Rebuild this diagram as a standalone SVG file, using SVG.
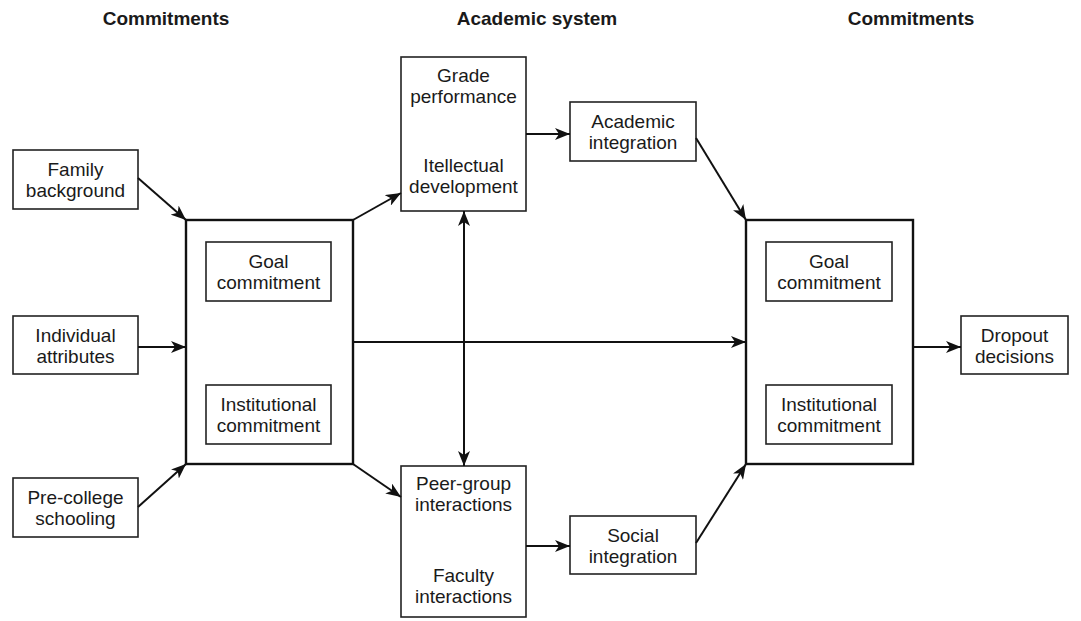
<svg xmlns="http://www.w3.org/2000/svg" width="1081" height="621" viewBox="0 0 1081 621">
<style>
text{font-family:"Liberation Sans",Arial,sans-serif;font-size:19px;fill:#1a1a1a;text-anchor:middle}
.h{font-weight:bold;font-size:19px}
.b{fill:#fff;stroke:#222;stroke-width:1.6}
.big{fill:none;stroke:#111;stroke-width:2.4}
.c{fill:none;stroke:#111;stroke-width:2;marker-end:url(#ah)}
</style>
<defs>
<marker id="ah" markerUnits="userSpaceOnUse" markerWidth="16" markerHeight="12" refX="15" refY="6" orient="auto-start-reverse" viewBox="0 0 16 12">
<path d="M0,0 L15,6 L0,12 L4,6 z" fill="#111"/>
</marker>
</defs>
<g id="headings">
<text class="h" x="166" y="25">Commitments</text>
<text class="h" x="537" y="25">Academic system</text>
<text class="h" x="911" y="25">Commitments</text>
</g>
<g id="family"><rect class="b" x="13" y="150" width="125" height="59"/><text x="75.5" y="175.5">Family</text><text x="75.5" y="196.5">background</text></g>
<g id="individual"><rect class="b" x="13" y="316" width="125" height="58"/><text x="75.5" y="341.5">Individual</text><text x="75.5" y="362.5">attributes</text></g>
<g id="precollege"><rect class="b" x="13" y="478" width="125" height="59"/><text x="75.5" y="503.5">Pre-college</text><text x="75.5" y="524.5">schooling</text></g>
<g id="left-commitments">
<rect class="big" x="186" y="220" width="167" height="244"/>
<rect class="b" x="206" y="242" width="125" height="59"/><text x="268.5" y="267.5">Goal</text><text x="268.5" y="288.5">commitment</text>
<rect class="b" x="206" y="385" width="125" height="59"/><text x="268.5" y="410.5">Institutional</text><text x="268.5" y="431.5">commitment</text>
</g>
<g id="grade"><rect class="b" x="401" y="57" width="125" height="154"/><text x="463.5" y="82">Grade</text><text x="463.5" y="103">performance</text><text x="463.5" y="172">Itellectual</text><text x="463.5" y="193">development</text></g>
<g id="peer"><rect class="b" x="401" y="466" width="125" height="151"/><text x="463.5" y="490">Peer-group</text><text x="463.5" y="511">interactions</text><text x="463.5" y="582">Faculty</text><text x="463.5" y="603">interactions</text></g>
<g id="academic"><rect class="b" x="570" y="102" width="126" height="59"/><text x="633" y="127.5">Academic</text><text x="633" y="148.5">integration</text></g>
<g id="social"><rect class="b" x="570" y="516" width="126" height="58"/><text x="633" y="541.5">Social</text><text x="633" y="562.5">integration</text></g>
<g id="right-commitments">
<rect class="big" x="746" y="220" width="167" height="244"/>
<rect class="b" x="766" y="242" width="126" height="59"/><text x="829" y="267.5">Goal</text><text x="829" y="288.5">commitment</text>
<rect class="b" x="766" y="385" width="126" height="59"/><text x="829" y="410.5">Institutional</text><text x="829" y="431.5">commitment</text>
</g>
<g id="dropout"><rect class="b" x="961" y="316" width="107" height="58"/><text x="1014.5" y="341.5">Dropout</text><text x="1014.5" y="362.5">decisions</text></g>
<g id="connectors">
<line class="c" x1="138" y1="178" x2="186" y2="220"/>
<line class="c" x1="138" y1="347" x2="186" y2="347"/>
<line class="c" x1="138" y1="507" x2="186" y2="464"/>
<line class="c" x1="353" y1="220" x2="401" y2="193"/>
<line class="c" x1="353" y1="464" x2="401" y2="497"/>
<line class="c" x1="464" y1="211" x2="464" y2="466" style="marker-start:url(#ah)"/>
<line class="c" x1="353" y1="342" x2="746" y2="342"/>
<line class="c" x1="526" y1="134" x2="570" y2="134"/>
<line class="c" x1="526" y1="546" x2="570" y2="546"/>
<line class="c" x1="696" y1="138" x2="746" y2="220"/>
<line class="c" x1="696" y1="543" x2="746" y2="464"/>
<line class="c" x1="913" y1="347" x2="961" y2="347"/>
</g>
</svg>
